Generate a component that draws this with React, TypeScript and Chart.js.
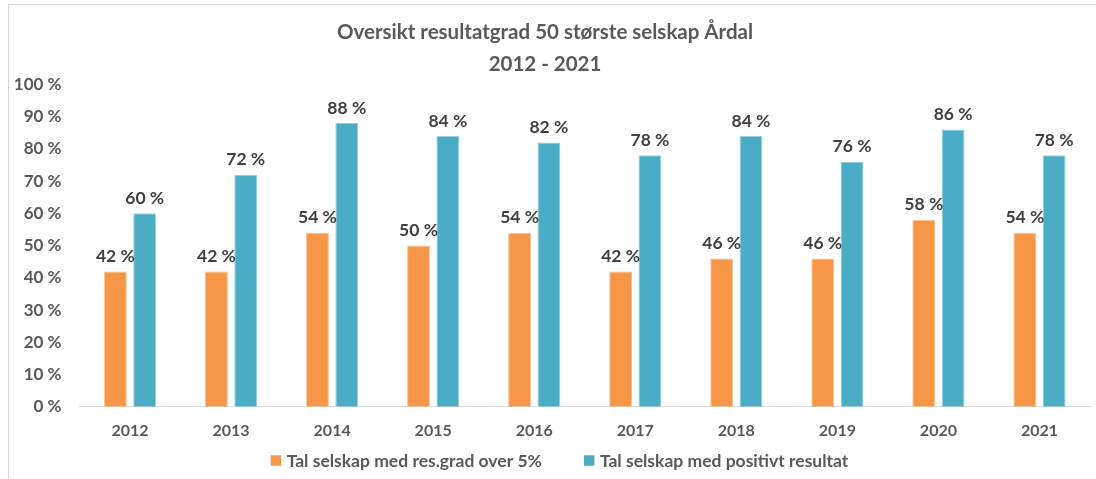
import React, { useEffect, useRef } from "react";
import { Chart, registerables } from "chart.js";

Chart.register(...registerables);

const titleLines = ["Oversikt resultatgrad 50 største selskap Årdal", "2012 - 2021"];
const categories = ["2012", "2013", "2014", "2015", "2016", "2017", "2018", "2019", "2020", "2021"];
const seriesNames = ["Tal selskap med res.grad over 5%", "Tal selskap med positivt resultat"];
const resGradOver5 = [42, 42, 54, 50, 54, 42, 46, 46, 58, 54];
const positivtResultat = [60, 72, 88, 84, 82, 78, 84, 76, 86, 78];
const yMin = 0;
const yMax = 100;
const yStep = 10;

const FONT = "Lato, 'Open Sans', sans-serif";
const TEXT = "#595959";
const LABEL = "#404040";

const dataLabelPlugin = {
  id: "dataLabels",
  afterDatasetsDraw(chart: any) {
    const ctx = chart.ctx;
    ctx.save();
    ctx.font = `bold 17.5px ${FONT}`;
    ctx.fillStyle = LABEL;
    ctx.textAlign = "center";
    ctx.textBaseline = "middle";
    chart.data.datasets.forEach((ds: any, i: number) => {
      const meta = chart.getDatasetMeta(i);
      meta.data.forEach((bar: any, j: number) => {
        ctx.fillText(`${ds.data[j]} %`, bar.x, bar.y - 15);
      });
    });
    ctx.restore();
  },
};

const legendPlugin = {
  id: "customLegend",
  afterDraw(chart: any) {
    const ctx = chart.ctx;
    ctx.save();
    ctx.font = `bold 17.5px ${FONT}`;
    ctx.textBaseline = "middle";
    ctx.textAlign = "left";
    const box = 10.5;
    const gapBoxText = 5.5;
    const gapItems = 42;
    const ds = chart.data.datasets;
    const widths = ds.map((d: any) => box + gapBoxText + ctx.measureText(d.label).width);
    const total = widths.reduce((a: number, b: number) => a + b, 0) + gapItems * (ds.length - 1);
    const cy = 460.5;
    let x = 559.5 - total / 2;
    ds.forEach((d: any, i: number) => {
      ctx.fillStyle = d.backgroundColor;
      ctx.fillRect(x, cy - box / 2, box, box);
      ctx.fillStyle = TEXT;
      ctx.fillText(d.label, x + box + gapBoxText, cy + 1);
      x += widths[i] + gapItems;
    });
    ctx.restore();
  },
};

export default function App() {
  const ref = useRef<HTMLCanvasElement>(null);
  useEffect(() => {
    if (!ref.current) return;
    const chart = new Chart(ref.current, {
      type: "bar",
      data: {
        labels: categories,
        datasets: [
          {
            label: seriesNames[0],
            data: resGradOver5,
            backgroundColor: "#F79646",
            borderColor: "#FAC090",
            borderWidth: 1,
            categoryPercentage: 0.58,
            barPercentage: 0.78,
          },
          {
            label: seriesNames[1],
            data: positivtResultat,
            backgroundColor: "#4BACC6",
            borderColor: "#8ED0E2",
            borderWidth: 1,
            categoryPercentage: 0.58,
            barPercentage: 0.78,
          },
        ],
      },
      options: {
        responsive: false,
        animation: false,
        layout: { padding: { left: 0, right: 6, top: 0, bottom: 25 } },
        plugins: {
          title: {
            display: true,
            text: titleLines,
            color: TEXT,
            font: { family: FONT, size: 20.5, weight: "bold", lineHeight: 1.57 },
            padding: { top: 16, bottom: 4 },
          },
          legend: { display: false },
          tooltip: { enabled: false },
        },
        scales: {
          x: {
            grid: { display: false, drawTicks: false },
            border: { display: true, color: "#D9D9D9", width: 1 },
            ticks: {
              color: TEXT,
              font: { family: FONT, size: 16, weight: "bold" },
              padding: 14,
            },
          },
          y: {
            min: yMin,
            max: yMax,
            grid: { display: false, drawTicks: false },
            border: { display: false },
            ticks: {
              stepSize: yStep,
              color: TEXT,
              font: { family: FONT, size: 17, weight: "bold" },
              padding: 18,
              callback: (v: any) => `${v} %`,
            },
            afterFit(scale: any) {
              scale.width = 79.5;
            },
          },
        },
      },
      plugins: [dataLabelPlugin, legendPlugin],
    });
    return () => chart.destroy();
  }, []);
  return (
    <div style={{ position: "absolute", left: 0, top: 0, width: 1096, height: 479, overflow: "hidden", background: "#fff" }}>
      <div style={{ position: "absolute", left: 8, top: 4, width: 1200, height: 600, border: "1px solid #D9D9D9" }} />
      <canvas ref={ref} width={1096} height={479} style={{ position: "absolute", left: 0, top: 0 }} />
    </div>
  );
}
